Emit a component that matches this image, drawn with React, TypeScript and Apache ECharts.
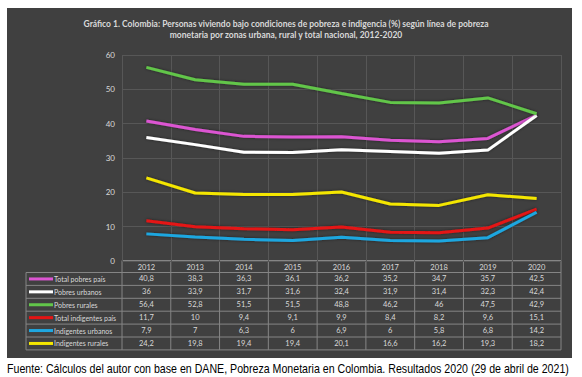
import React, { useEffect, useRef } from "react";
import * as echarts from "echarts";

const years = ["2012", "2013", "2014", "2015", "2016", "2017", "2018", "2019", "2020"];
const seriesNames = [
  "Total pobres país",
  "Pobres urbanos",
  "Pobres rurales",
  "Total indigentes país",
  "Indigentes urbanos",
  "Indigentes rurales",
];
const totalPobres = [40.8, 38.3, 36.3, 36.1, 36.2, 35.2, 34.7, 35.7, 42.5];
const pobresUrbanos = [36, 33.9, 31.7, 31.6, 32.4, 31.9, 31.4, 32.3, 42.4];
const pobresRurales = [56.4, 52.8, 51.5, 51.5, 48.8, 46.2, 46, 47.5, 42.9];
const totalIndigentes = [11.7, 10, 9.4, 9.1, 9.9, 8.4, 8.2, 9.6, 15.1];
const indigentesUrbanos = [7.9, 7, 6.3, 6, 6.9, 6, 5.8, 6.8, 14.2];
const indigentesRurales = [24.2, 19.8, 19.4, 19.4, 20.1, 16.6, 16.2, 19.3, 18.2];
const colors = ["#dc55d2", "#ffffff", "#62c64a", "#e41414", "#1fa7e0", "#f4e600"];
const yTicks = { min: 0, max: 60, interval: 10 };

const titleText =
  "Gráfico 1. Colombia: Personas viviendo bajo condiciones de pobreza e indigencia (%) según línea de pobreza\nmonetaria por zonas urbana, rural y total nacional, 2012-2020";
const footerText =
  "Fuente: Cálculos del autor con base en DANE, Pobreza Monetaria en Colombia. Resultados 2020 (29 de abril de 2021)";

export default function App() {
  const ref = useRef<HTMLDivElement>(null);
  useEffect(() => {
    if (!ref.current) return;
    const chart = echarts.init(ref.current, undefined, { renderer: "svg" });
    const allData = [totalPobres, pobresUrbanos, pobresRurales, totalIndigentes, indigentesUrbanos, indigentesRurales];

    const W = 582;
    const gridLeft = 122;
    const gridRight = 561;
    const gridTop = 55;
    const gridBottom = 261;
    const colW = (gridRight - gridLeft) / years.length;
    const tableLeft = 26;
    const headerTop = 260.5;
    const headerH = 12;
    const rowH = 12.9;
    const fmt = (v: number) => String(v).replace(".", ",");
    const lineColor = "#858585";
    const txtColor = "#d9d9d9";
    const font = "Lato, 'Open Sans', sans-serif";

    const graphics: any[] = [];
    graphics.push({
      type: "rect",
      z: -10,
      shape: { x: 7, y: 8, width: 565, height: 350 },
      style: { fill: "#404040" },
      silent: true,
    });
    const rowsTop = headerTop + headerH;
    const tableBottom = rowsTop + rowH * seriesNames.length;
    graphics.push({ type: "line", shape: { x1: gridLeft, y1: headerTop, x2: gridRight, y2: headerTop }, style: { stroke: lineColor, lineWidth: 1 } });
    for (let r = 0; r <= seriesNames.length; r++) {
      const y = rowsTop + r * rowH;
      graphics.push({ type: "line", shape: { x1: tableLeft, y1: y, x2: gridRight, y2: y }, style: { stroke: lineColor, lineWidth: 1 } });
    }
    graphics.push({ type: "line", shape: { x1: tableLeft, y1: rowsTop, x2: tableLeft, y2: tableBottom }, style: { stroke: lineColor, lineWidth: 1 } });
    for (let c = 0; c <= years.length; c++) {
      const x = gridLeft + c * colW;
      graphics.push({ type: "line", shape: { x1: x, y1: headerTop, x2: x, y2: tableBottom }, style: { stroke: lineColor, lineWidth: 1 } });
    }
    years.forEach((yr, c) => {
      graphics.push({
        type: "text",
        x: gridLeft + (c + 0.5) * colW,
        y: headerTop + headerH / 2 + 0.5,
        style: { text: yr, fill: txtColor, font: `7.5px ${font}`, textAlign: "center", textVerticalAlign: "middle" },
      });
    });
    seriesNames.forEach((name, r) => {
      const cy = rowsTop + (r + 0.5) * rowH;
      graphics.push({ type: "line", shape: { x1: 29, y1: cy, x2: 53, y2: cy }, style: { stroke: colors[r], lineWidth: 3 } });
      graphics.push({
        type: "text",
        x: 54,
        y: cy,
        style: { text: name, fill: txtColor, font: `7px ${font}`, textAlign: "left", textVerticalAlign: "middle" },
      });
      allData[r].forEach((v, c) => {
        graphics.push({
          type: "text",
          x: gridLeft + (c + 0.5) * colW,
          y: cy,
          style: { text: fmt(v), fill: txtColor, font: `7.5px ${font}`, textAlign: "center", textVerticalAlign: "middle" },
        });
      });
    });
    graphics.push({
      type: "text",
      x: 7,
      y: 369,
      scaleX: 0.885,
      style: { text: footerText, fill: "#000", font: "12px 'Liberation Sans', Arial, sans-serif", textAlign: "left", textVerticalAlign: "middle" },
    });

    chart.setOption({
      animation: false,
      backgroundColor: "#ffffff",
      title: {
        text: titleText,
        left: 286,
        top: 18,
        padding: 0,
        textAlign: "center",
        textStyle: { color: txtColor, fontSize: 8.5, fontWeight: "bold", fontFamily: font, lineHeight: 11 },
      },
      grid: { left: gridLeft, right: W - gridRight, top: gridTop, bottom: 377 - gridBottom, containLabel: false },
      xAxis: {
        type: "category",
        data: years,
        boundaryGap: true,
        axisLine: { show: false },
        axisTick: { show: false },
        axisLabel: { show: false },
        splitLine: { show: true, lineStyle: { color: "#575757", width: 1 } },
      },
      yAxis: {
        type: "value",
        min: yTicks.min,
        max: yTicks.max,
        interval: yTicks.interval,
        axisLine: { show: false },
        axisTick: { show: false },
        axisLabel: { color: txtColor, fontSize: 8, fontFamily: font, margin: 7 },
        splitLine: { show: true, lineStyle: { color: "#575757", width: 1 } },
      },
      series: seriesNames.map((name, i) => ({
        name,
        type: "line",
        data: allData[i],
        symbol: "none",
        smooth: false,
        lineStyle: { color: colors[i], width: 3, shadowBlur: 3, shadowColor: "rgba(0,0,0,0.5)" },
        itemStyle: { color: colors[i] },
      })),
      graphic: graphics,
    });
    return () => chart.dispose();
  }, []);
  return <div ref={ref} style={{ position: "absolute", left: 0, top: 0, width: 582, height: 377 }} />;
}
